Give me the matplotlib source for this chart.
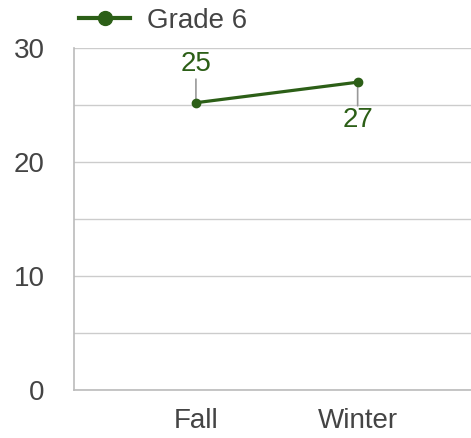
import matplotlib
matplotlib.use("Agg")
import matplotlib.pyplot as plt
from matplotlib.ticker import MultipleLocator

categories = ["Fall", "Winter"]
series_name = "Grade 6"
values = [25.2, 27.0]
value_labels = ["25", "27"]
y_ticks = [0, 10, 20, 30]

plt.rcParams['font.family'] = ['Liberation Sans', 'DejaVu Sans']
GREEN = "#2c5f17"
TEXT = "#444444"
FS = 20

fig = plt.figure(figsize=(4.71, 4.38), dpi=100)
ax = fig.add_axes([74/471, 48/438, 1 - 74/471, 342/438])

x = list(range(len(categories)))
ax.plot(x, values, color=GREEN, lw=2.3, marker="o", markersize=6, label=series_name, zorder=5)

ax.set_xlim(-0.754, 1.701)
ax.set_ylim(0, 30)
ax.set_yticks(y_ticks)
ax.yaxis.set_minor_locator(MultipleLocator(5))
ax.set_xticks(x)
ax.set_xticklabels(categories)
ax.grid(axis="y", which="both", color="#cccccc", lw=1)
ax.set_axisbelow(True)
ax.tick_params(axis="y", which="both", length=0, pad=21, labelsize=FS, labelcolor=TEXT)
ax.tick_params(axis="x", length=0, pad=13, labelsize=FS, labelcolor=TEXT)
for s in ["top", "right"]:
    ax.spines[s].set_visible(False)
for s in ["left", "bottom"]:
    ax.spines[s].set_color("#bbbbbb")
    ax.spines[s].set_linewidth(1.2)

offsets = [(17, 28), (-17, -27)]
for xi, v, lab, (lo, to) in zip(x, values, value_labels, offsets):
    ax.annotate("", xy=(xi, v), xytext=(0, lo), textcoords="offset points",
                arrowprops=dict(arrowstyle="-", color="#999999", lw=1.2, shrinkA=0, shrinkB=0))
    ax.annotate(lab, xy=(xi, v), xytext=(0, to), textcoords="offset points",
                ha="center", va="center", fontsize=FS, color=GREEN)

leg = ax.legend(loc="center left", bbox_to_anchor=(79/471, 1 - 21/438),
                bbox_transform=fig.transFigure, frameon=False, fontsize=FS,
                handlelength=1.85, handletextpad=0.6, borderpad=0, borderaxespad=0)
for t in leg.get_texts():
    t.set_color(TEXT)
for h in leg.legend_handles:
    h.set_linewidth(3)
    h.set_markersize(10)

fig.savefig("out.png", dpi=100)
